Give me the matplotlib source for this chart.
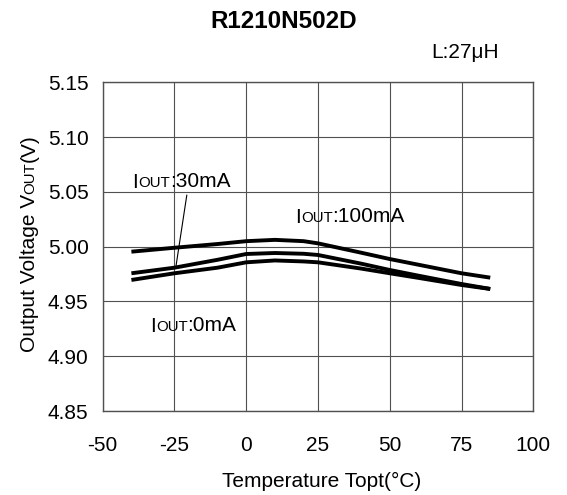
import matplotlib
matplotlib.use("Agg")
import matplotlib.pyplot as plt

plt.rcParams['font.family'] = ['Liberation Sans', 'DejaVu Sans']

# ---- data ----
temps = [-40, -25, -10, 0, 10, 20, 25, 40, 50, 60, 75, 85]
v_100mA = [4.9954, 4.9990, 5.0024, 5.0050, 5.0062, 5.0050, 5.0030, 4.9945, 4.9887, 4.9835, 4.9757, 4.9717]
v_30mA = [4.9757, 4.9808, 4.9880, 4.9933, 4.9942, 4.9935, 4.9924, 4.9845, 4.9787, 4.9735, 4.9659, 4.9614]
v_0mA = [4.9696, 4.9757, 4.9808, 4.9857, 4.9874, 4.9865, 4.9857, 4.9800, 4.9757, 4.9715, 4.9650, 4.9614]

x_ticks = [-50, -25, 0, 25, 50, 75, 100]
y_ticks = [4.85, 4.90, 4.95, 5.00, 5.05, 5.10, 5.15]
x_ticklabels = ["-50", "-25", "0", "25", "50", "75", "100"]
y_ticklabels = ["4.85", "4.90", "4.95", "5.00", "5.05", "5.10", "5.15"]

title = "R1210N502D"
subtitle = "L:27μH"

W, H = 567, 495
fig = plt.figure(figsize=(W / 100, H / 100), dpi=100)
ax = fig.add_axes([102.7 / W, 1 - 411 / H, (533.3 - 102.7) / W, (411 - 82.3) / H])

FS = 15
SMALL = 10.8
DESC = 0.212  # approx descent fraction of em
GAP = 0.0     # points between chained pieces

for v in (v_100mA, v_30mA, v_0mA):
    ax.plot(temps, v, color='black', lw=2.8, solid_capstyle='butt', zorder=3)

ax.set_xlim(-50, 100)
ax.set_ylim(4.85, 5.15)
ax.set_xticks(x_ticks)
ax.set_xticklabels(x_ticklabels)
ax.set_yticks(y_ticks)
ax.set_yticklabels(y_ticklabels)
ax.tick_params(axis='both', length=0, labelsize=FS, colors='black')
ax.tick_params(axis='y', pad=10.2)
ax.tick_params(axis='x', pad=18)
ax.grid(True, color='#505050', lw=0.8)
for s in ax.spines.values():
    s.set_color('#505050')
    s.set_linewidth(1.0)


def chain_h(pieces, xy, coords):
    prev = None
    prev_size = None
    for txt, size in pieces:
        if prev is None:
            prev = ax.text(xy[0], xy[1], txt, fontsize=size, transform=coords,
                           ha='left', va='baseline', zorder=4)
        else:
            prev = ax.annotate(txt, xy=(1, 0), xycoords=prev,
                               xytext=(GAP, DESC * prev_size), textcoords='offset points',
                               fontsize=size, ha='left', va='baseline', zorder=4)
        prev_size = size
    return prev


def chain_v(pieces, xy):
    prev = None
    prev_size = None
    for txt, size in pieces:
        if prev is None:
            prev = fig.text(xy[0], xy[1], txt, fontsize=size, rotation=90,
                            rotation_mode='anchor', ha='left', va='baseline')
        else:
            prev = fig.add_artist(plt.Annotation(
                txt, xy=(1, 1), xycoords=prev,
                xytext=(-DESC * prev_size, GAP), textcoords='offset points',
                fontsize=size, rotation=90, rotation_mode='anchor',
                ha='left', va='baseline'))
        prev_size = size
    return prev


# curve labels
chain_h([("I", FS), ("OUT", SMALL), (":30mA", FS)], (-39.7, 5.0538), ax.transData)
chain_h([("I", FS), ("OUT", SMALL), (":100mA", FS)], (17.0, 5.0219), ax.transData)
chain_h([("I", FS), ("OUT", SMALL), (":0mA", FS)], (-33.5, 4.9224), ax.transData)

# leader line for 30mA label
ax.annotate("", xy=(-24.5, 4.9817), xytext=(-20.7, 5.0471),
            arrowprops=dict(arrowstyle='-', color='black', lw=0.8,
                            shrinkA=0, shrinkB=0), zorder=4)

# axis labels
chain_v([("Output Voltage V", FS), ("OUT", SMALL), ("(V)", FS)], (35 / W, 1 - 352 / H))
fig.text(322 / W, 1 - 486.7 / H, "Temperature Topt(°C)", fontsize=FS,
         ha='center', va='baseline')

# titles
fig.text(0.5, 1 - 28.3 / H, title, fontsize=17.5, fontweight='bold',
         ha='center', va='baseline')
fig.text(431.7 / W, 1 - 58.3 / H, subtitle, fontsize=FS, ha='left', va='baseline')

fig.savefig("out.png", dpi=100)
